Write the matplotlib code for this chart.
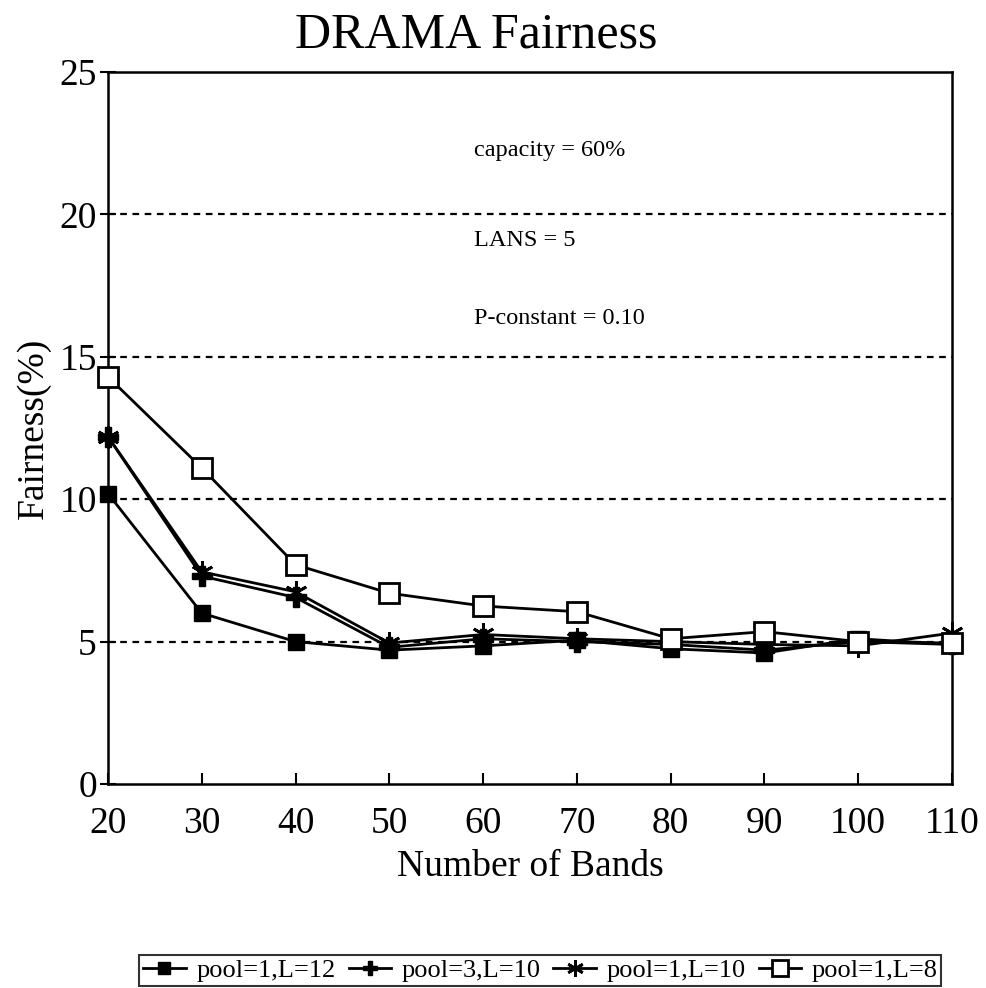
import matplotlib
matplotlib.use("Agg")
import matplotlib.pyplot as plt

bands = [20, 30, 40, 50, 60, 70, 80, 90, 100, 110]
pool1_L12 = [10.2, 6.0, 5.0, 4.7, 4.85, 5.05, 4.75, 4.6, 5.1, 4.9]
pool3_L10 = [12.2, 7.3, 6.55, 4.8, 5.1, 5.0, 4.9, 4.7, 5.0, 4.9]
pool1_L10 = [12.2, 7.45, 6.75, 4.95, 5.25, 5.1, 5.0, 4.9, 4.85, 5.3]
pool1_L8 = [14.3, 11.1, 7.7, 6.7, 6.25, 6.05, 5.1, 5.35, 5.0, 4.95]
series_labels = ["pool=1,L=12", "pool=3,L=10", "pool=1,L=10", "pool=1,L=8"]
y_ticks = [0, 5, 10, 15, 20, 25]
notes = ["capacity = 60%", "LANS = 5", "P-constant = 0.10"]

plt.rcParams['font.family'] = ['Liberation Serif', 'DejaVu Serif']

fig = plt.figure(figsize=(9.86, 9.88), dpi=100)
ax = fig.add_axes([0.1095, 0.2065, 0.856, 0.7205])

lw = 2.0
ax.plot(bands, pool1_L12, color='black', lw=lw, marker='s', ms=12,
        mfc='black', mec='black', label=series_labels[0], zorder=4, clip_on=False)
ax.plot(bands, pool3_L10, color='black', lw=lw, marker='P', ms=14,
        mfc='black', mec='black', label=series_labels[1], zorder=4, clip_on=False)
ax.plot(bands, pool1_L10, color='black', lw=lw, marker=(6, 2, 0), ms=16,
        mew=2, mec='black', label=series_labels[2], zorder=4, clip_on=False)
ax.plot(bands, pool1_L8, color='black', lw=lw, marker='s', ms=15,
        mfc='white', mec='black', mew=2, label=series_labels[3], zorder=5,
        clip_on=False)

ax.set_xlim(20, 110)
ax.set_ylim(0, 25)
ax.set_xticks(bands)
ax.set_yticks(y_ticks)
for y in y_ticks[1:-1]:
    ax.axhline(y, color='black', lw=1.6, ls=(0, (3, 2.5)), zorder=1)

for s in ax.spines.values():
    s.set_linewidth(1.8)
ax.tick_params(axis='y', direction='inout', length=12, width=1.5, labelsize=27, pad=2)
ax.tick_params(axis='x', direction='in', length=8, width=1.5, labelsize=27, pad=16)

ax.set_xlabel("Number of Bands", fontsize=27, labelpad=6)
ax.set_ylabel("Fairness(%)", fontsize=27, labelpad=6)
fig.text(0.483, 0.964, "DRAMA Fairness", ha='center', va='center', fontsize=36)

note_y = [22.26, 19.1, 16.36]
for txt, yy in zip(notes, note_y):
    ax.text(59.0, yy, txt, fontsize=17.5, ha='left', va='center')

leg = fig.legend(loc='center', bbox_to_anchor=(0.548, 0.018), ncol=4,
                 fontsize=19, frameon=True, fancybox=False, edgecolor='black',
                 handlelength=1.6, handletextpad=0.4, columnspacing=0.5,
                 borderpad=0.15, markerscale=0.75)
leg.get_frame().set_linewidth(1.5)

fig.savefig("out.png", dpi=100)
